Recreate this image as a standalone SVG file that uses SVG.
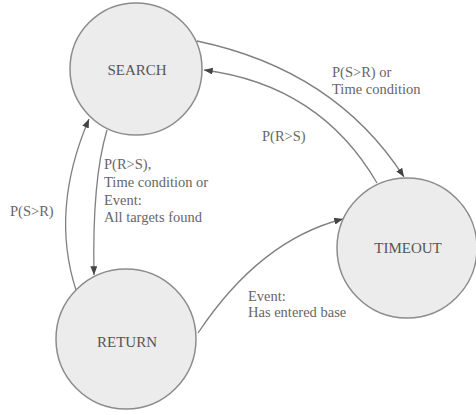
<svg xmlns="http://www.w3.org/2000/svg" width="476" height="415" viewBox="0 0 476 415">
<style>
.node{fill:#ececec;stroke:#8c8c8c;stroke-width:1.5}
.nt{font-family:'Liberation Serif','Times New Roman',Tinos,'DejaVu Serif','Noto Serif',serif;font-size:15px;fill:#555;text-anchor:middle}
.lb{font-family:'Liberation Serif','Times New Roman',Tinos,'DejaVu Serif','Noto Serif',serif;font-size:14.5px;fill:#666}
.edge{fill:none;stroke:#808080;stroke-width:1.3}
</style>
<defs>
<marker id="ah" viewBox="0 0 10 8" refX="10" refY="4" markerWidth="9" markerHeight="7" markerUnits="userSpaceOnUse" orient="auto">
<path d="M0,0 L10,4 L0,8 z" fill="#444"/>
</marker>
</defs>
<rect width="476" height="415" fill="#fff"/>
<g id="connectors">
<path class="edge" d="M197,41 Q335,70 404,177" marker-end="url(#ah)"/>
<path class="edge" d="M377,183 Q320,85 204,70" marker-end="url(#ah)"/>
<path class="edge" d="M107,130 Q92,180 94,275" marker-end="url(#ah)"/>
<path class="edge" d="M76,290 Q50,210 89,119" marker-end="url(#ah)"/>
<path class="edge" d="M198,333 Q260,240 343,219" marker-end="url(#ah)"/>
</g>
<g id="search"><circle class="node" cx="136" cy="69" r="66"/><text class="nt" x="137" y="75">SEARCH</text></g>
<g id="timeout"><circle class="node" cx="407" cy="248" r="70"/><text class="nt" x="408" y="253">TIMEOUT</text></g>
<g id="return"><circle class="node" cx="126" cy="339" r="70"/><text class="nt" x="127" y="347">RETURN</text></g>
<g id="labels">
<text class="lb" x="332" y="77">P(S&gt;R) or</text>
<text class="lb" x="332" y="94">Time condition</text>
<text class="lb" x="262" y="141">P(R&gt;S)</text>
<text class="lb" x="104" y="169">P(R&gt;S),</text>
<text class="lb" x="104" y="187">Time condition or</text>
<text class="lb" x="104" y="205">Event:</text>
<text class="lb" x="104" y="222">All targets found</text>
<text class="lb" x="10" y="216">P(S&gt;R)</text>
<text class="lb" x="248" y="301">Event:</text>
<text class="lb" x="248" y="317">Has entered base</text>
</g>
</svg>
